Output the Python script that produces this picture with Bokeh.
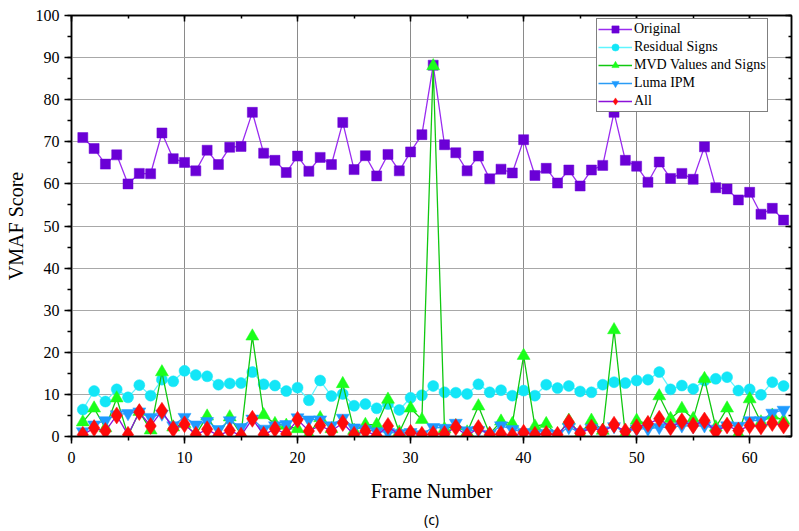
from bokeh.plotting import figure
from bokeh.models import (Legend, LegendItem, LinearAxis, Range1d, Title,
                          SingleIntervalTicker, ColumnDataSource, CustomLabelingPolicy)
from bokeh.embed import file_html
from bokeh.resources import INLINE

# VMAF score per frame for each configuration
frames = list(range(1, 64))

original = [71.0, 68.4, 64.7, 66.9, 60.0, 62.5, 62.4, 72.1, 66.0, 65.1,
            63.1, 68.0, 64.6, 68.7, 68.9, 77.0, 67.3, 65.6, 62.7, 66.6,
            63.0, 66.3, 64.6, 74.6, 63.4, 66.7, 61.9, 67.0, 63.1, 67.6,
            71.7, 88.2, 69.3, 67.4, 63.1, 66.6, 61.2, 63.5, 62.6, 70.5,
            62.0, 63.7, 60.2, 63.3, 59.5, 63.3, 64.4, 77.0, 65.6, 64.2,
            60.4, 65.2, 61.3, 62.5, 61.1, 68.8, 59.1, 58.8, 56.2, 58.0,
            52.8, 54.2, 51.4]

residual_signs = [6.4, 10.8, 8.3, 11.2, 9.3, 12.2, 9.7, 13.5, 13.1, 15.6,
                  14.6, 14.3, 12.3, 12.6, 12.7, 15.3, 12.4, 12.1, 10.8, 11.6,
                  8.6, 13.3, 9.6, 10.1, 7.3, 7.7, 6.7, 7.7, 6.3, 9.2,
                  9.8, 12.0, 10.5, 10.4, 10.1, 12.4, 10.5, 11.0, 9.7, 10.9,
                  9.7, 12.3, 11.5, 12.0, 10.7, 10.5, 12.3, 12.9, 12.7, 13.3,
                  13.5, 15.3, 11.2, 12.1, 11.3, 13.3, 13.7, 14.1, 10.9, 11.2,
                  9.9, 12.9, 12.0]

mvd_values_signs = [3.4, 6.7, 2.0, 9.1, 0.2, 5.9, 1.5, 15.3, 2.2, 3.0,
                    0.5, 4.8, 0.5, 4.6, 0.5, 23.8, 5.1, 3.0, 2.6, 1.8,
                    0.4, 4.4, 1.8, 12.5, 1.4, 2.8, 2.8, 8.8, 1.0, 6.7,
                    4.0, 88.0, 1.8, 2.5, 1.0, 7.2, 0.6, 3.6, 3.0, 19.2,
                    2.4, 3.0, 0.2, 3.8, 0.6, 3.8, 1.4, 25.3, 0.6, 3.8,
                    3.0, 9.6, 4.2, 6.6, 4.2, 13.7, 2.2, 6.7, 0.6, 8.9,
                    3.4, 5.0, 3.8]

luma_ipm = [1.2, 2.8, 3.8, 5.2, 5.5, 5.9, 4.6, 5.4, 2.6, 4.6,
            2.8, 3.6, 1.7, 3.8, 2.2, 4.2, 1.8, 2.6, 2.9, 4.5,
            4.0, 4.0, 2.6, 4.4, 2.1, 1.7, 1.2, 1.0, 0.8, 1.0,
            0.5, 2.2, 2.0, 3.2, 1.4, 1.5, 0.6, 2.6, 1.7, 1.0,
            0.6, 0.8, 0.6, 2.2, 1.0, 2.0, 1.4, 2.4, 1.0, 1.8,
            1.8, 2.2, 2.2, 2.6, 2.4, 2.6, 1.8, 2.6, 2.5, 3.8,
            3.8, 5.6, 6.3]

all_combined = [0.4, 2.0, 1.3, 5.0, 0.4, 5.8, 2.5, 6.1, 1.8, 2.9,
                0.4, 1.7, 0.2, 1.4, 0.2, 4.2, 0.4, 1.8, 0.6, 4.0,
                1.3, 2.6, 1.3, 3.2, 0.4, 1.3, 0.2, 2.5, 0.2, 0.9,
                0.4, 0.6, 0.6, 2.2, 0.2, 2.0, 0.4, 0.6, 0.2, 0.9,
                0.4, 0.6, 0.4, 3.4, 0.8, 2.1, 1.2, 2.8, 1.2, 2.2,
                3.0, 4.2, 2.2, 3.6, 2.6, 3.8, 1.2, 2.6, 1.4, 2.6,
                2.4, 3.2, 2.6]

series = [
    # label, values, line colour, marker, marker colour, marker size
    ("Original", original, "#9a2cf0", "square", "#6a00d6", 10),
    ("Residual Signs", residual_signs, "#5ff5ff", "circle", "#13e6f7", 11),
    ("MVD Values and Signs", mvd_values_signs, "#10c810", "triangle", "#1aff1a", 13),
    ("Luma IPM", luma_ipm, "#2a9cf5", "inverted_triangle", "#1e9bff", 13),
    ("All", all_combined, "#8c12d8", "diamond", "#ff0a0a", 17),
]

SERIF = "Liberation Serif"

p = figure(frame_width=720, frame_height=421,
           x_range=Range1d(0, 63.7), y_range=Range1d(0, 100),
           output_backend="svg", toolbar_location=None,
           min_border_left=71, min_border_right=8,
           min_border_top=15, min_border_bottom=95,
           background_fill_color="white", border_fill_color="white")
p.outline_line_color = "black"
p.outline_line_width = 1.5

ticker = SingleIntervalTicker(interval=10, num_minor_ticks=2)

for ax in (p.xaxis[0], p.yaxis[0]):
    ax.ticker = ticker
    ax.axis_line_color = "black"
    ax.axis_line_width = 1.5
    ax.major_tick_line_color = "black"
    ax.major_tick_line_width = 1.5
    ax.minor_tick_line_color = "black"
    ax.minor_tick_line_width = 1.5
    ax.major_tick_in = 0
    ax.major_tick_out = 7
    ax.minor_tick_in = 0
    ax.minor_tick_out = 4
    ax.major_label_text_font = SERIF
    ax.major_label_text_font_size = "16px"
    ax.major_label_text_color = "black"
    ax.axis_label_text_font = SERIF
    ax.axis_label_text_font_size = "20px"
    ax.axis_label_text_font_style = "normal"
    ax.axis_label_text_color = "black"

p.xaxis.axis_label = "Frame Number"
p.yaxis.axis_label = "VMAF Score"
p.xaxis.major_label_standoff = 8
p.xaxis.axis_label_standoff = 14
p.yaxis.major_label_standoff = 5
p.yaxis.axis_label_standoff = 6

# mirrored axes on top and right: inward ticks, every label filtered out
no_labels = CustomLabelingPolicy(
    code="for (const i of [...indices.ones()]) { indices.unset(i) } return indices")
for place in ("above", "right"):
    ax = LinearAxis(ticker=ticker, axis_line_color="black", axis_line_width=1.5,
                    major_tick_in=6, major_tick_out=0, minor_tick_in=3, minor_tick_out=0,
                    major_tick_line_width=1.5, minor_tick_line_width=1.5,
                    major_label_policy=no_labels, major_label_standoff=0)
    p.add_layout(ax, place)

p.xgrid.ticker = ticker
p.ygrid.ticker = ticker
p.xgrid.grid_line_color = "#8a8a8a"
p.xgrid.grid_line_width = 1
p.ygrid.grid_line_color = "#a8a8a8"
p.ygrid.grid_line_width = 1.2

items = []
for label, vals, lcol, marker, mcol, size in series:
    src = ColumnDataSource(dict(x=frames, y=vals))
    lr = p.line("x", "y", source=src, line_color=lcol, line_width=1.3)
    sr = p.scatter("x", "y", source=src, marker=marker, size=size,
                   fill_color=mcol, line_color=mcol, line_width=0.5)
    items.append(LegendItem(label=label, renderers=[lr, sr]))

legend = Legend(items=items, location=(525, 324),
                label_text_font=SERIF, label_text_font_size="14px",
                label_text_color="black",
                glyph_width=34, glyph_height=18, label_height=18,
                label_standoff=2, spacing=0, padding=1, margin=0,
                border_line_color="black", border_line_width=1.2,
                background_fill_color="white", background_fill_alpha=1.0)
p.add_layout(legend)

p.add_layout(Title(text="(c)", align="center", offset=-15, standoff=6,
                   text_font="Noto Sans", text_font_size="14px",
                   text_font_style="normal", text_color="black"), "below")

open("out.html", "w").write(file_html(p, INLINE))
